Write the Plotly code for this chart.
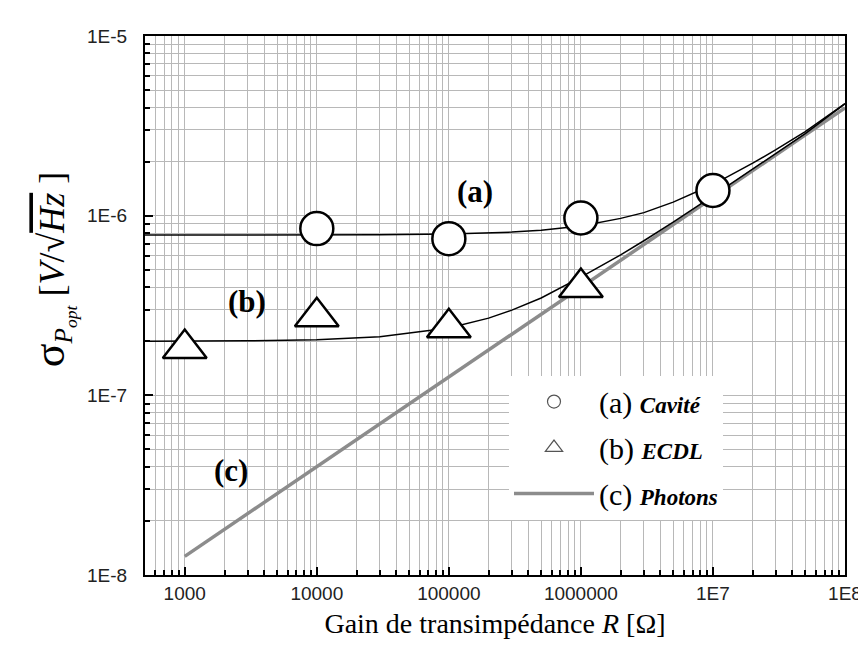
import plotly.graph_objects as go
import math

# ---- data ----
R_cavite = [1e4, 1e5, 1e6, 1e7]
sig_cavite = [8.47e-7, 7.45e-7, 9.7e-7, 1.38e-6]

R_ecdl = [1e3, 1e4, 1e5, 1e6]
sig_ecdl = [1.82e-7, 2.74e-7, 2.38e-7, 3.98e-7]

R_fit = [500, 1e3, 3e3, 1e4, 3e4, 1e5, 2e5, 3e5, 5e5, 1e6, 2e6, 3e6, 5e6, 1e7, 2e7, 3e7, 5e7, 1e8]
fit_a = [7.80e-7, 7.80e-7, 7.80e-7, 7.81e-7, 7.83e-7, 7.90e-7, 8.00e-7, 8.10e-7, 8.30e-7, 8.77e-7,
         9.66e-7, 1.04e-6, 1.19e-6, 1.49e-6, 1.96e-6, 2.33e-6, 2.94e-6, 4.20e-6]
fit_b = [2.00e-7, 2.00e-7, 2.01e-7, 2.04e-7, 2.12e-7, 2.37e-7, 2.69e-7, 2.98e-7, 3.48e-7, 4.55e-7,
         6.05e-7, 7.25e-7, 9.20e-7, 1.29e-6, 1.81e-6, 2.21e-6, 2.86e-6, 4.20e-6]

R_photons = [1e3, 1e8]
sig_photons = [1.27e-8, 3.98e-6]

x_tickvals = [1e3, 1e4, 1e5, 1e6, 1e7, 1e8]
x_ticktext = ["1000", "10000", "100000", "1000000", "1E7", "1E8"]
y_tickvals = [1e-8, 1e-7, 1e-6, 1e-5]
y_ticktext = ["1E-8", "1E-7", "1E-6", "1E-5"]

labels = ["(a)", "(b)", "(c)"]
label_R = [1.57e5, 2.96e3, 2.24e3]
label_sig = [1.355e-6, 3.35e-7, 3.8e-8]

legend_names = ["(a) <b><i><span style='font-size:23px'>Cavité</span></i></b>",
                "(b) <b><i><span style='font-size:23px'>ECDL</span></i></b>",
                "(c) <b><i><span style='font-size:23px'>Photons</span></i></b>"]

SERIF = "Liberation Serif, Times New Roman, serif"
SANS = "Liberation Sans, Arial, sans-serif"

fig = go.Figure()

fig.add_trace(go.Scatter(x=R_photons, y=sig_photons, mode="lines",
                         line=dict(color="#8c8c8c", width=3.5), showlegend=False))
fig.add_trace(go.Scatter(x=R_fit, y=fit_a, mode="lines",
                         line=dict(color="black", width=1.5), showlegend=False))
fig.add_trace(go.Scatter(x=R_fit, y=fit_b, mode="lines",
                         line=dict(color="black", width=1.5), showlegend=False))
fig.add_trace(go.Scatter(x=R_cavite, y=sig_cavite, mode="markers",
                         marker=dict(symbol="circle", size=33, color="white",
                                     line=dict(color="black", width=2.5)),
                         showlegend=False))
fig.add_trace(go.Scatter(x=R_ecdl, y=sig_ecdl, mode="markers",
                         marker=dict(symbol="triangle-up", size=38, color="white",
                                     line=dict(color="black", width=2.5)),
                         showlegend=False))

# legend-only entries
fig.add_trace(go.Scatter(x=[None], y=[None], mode="markers", name=legend_names[0],
                         legendgroup="a",
                         marker=dict(symbol="circle-open", size=13, color="#555555",
                                     line=dict(width=1.2))))
fig.add_trace(go.Scatter(x=[None], y=[None], mode="markers", name=legend_names[1],
                         legendgroup="b",
                         marker=dict(symbol="triangle-up-open", size=15, color="#555555",
                                     line=dict(width=1.2))))
fig.add_trace(go.Scatter(x=[None], y=[None], mode="lines", name=legend_names[2],
                         legendgroup="c",
                         line=dict(color="#8c8c8c", width=3.5)))

for t, xr, yv in zip(labels, label_R, label_sig):
    fig.add_annotation(x=math.log10(xr), y=math.log10(yv), xref="x", yref="y",
                       text="<b>" + t + "</b>", showarrow=False,
                       font=dict(family=SERIF, size=31, color="black"))

fig.add_annotation(xref="paper", yref="paper", x=-0.131, y=0.566,
                   text=("<span style='font-size:44px'>σ</span><sub><i>P</i><sub><i>opt</i></sub></sub>"
                         " [<i>V</i>/√<span style='text-decoration:overline'><i>Hz</i></span> ]"),
                   textangle=-90, showarrow=False, xanchor="center", yanchor="middle",
                   font=dict(family=SERIF, size=36, color="black"))

grid_col = "#b8b8b8"
fig.update_xaxes(type="log", range=[math.log10(500), 8],
                 tickmode="array", tickvals=x_tickvals, ticktext=x_ticktext,
                 ticks="inside", ticklen=8, tickwidth=1.5, tickcolor="black",
                 showline=True, linecolor="black", linewidth=2, mirror=True,
                 showgrid=True, gridcolor=grid_col, gridwidth=1,
                 minor=dict(dtick="D1", ticks="inside", ticklen=5, tickcolor="black",
                            showgrid=True, gridcolor=grid_col, gridwidth=1),
                 tickfont=dict(family=SANS, size=19, color="#222222"),
                 title=dict(text="Gain de transimpédance <i>R</i> [Ω]",
                            font=dict(family=SERIF, size=28, color="black"), standoff=11),
                 zeroline=False)
fig.update_yaxes(type="log", range=[-8, -5],
                 tickmode="array", tickvals=y_tickvals, ticktext=y_ticktext,
                 ticks="inside", ticklen=8, tickwidth=1.5, tickcolor="black",
                 showline=True, linecolor="black", linewidth=2, mirror=True,
                 showgrid=True, gridcolor=grid_col, gridwidth=1,
                 minor=dict(dtick="D1", ticks="inside", ticklen=5, tickcolor="black",
                            showgrid=True, gridcolor=grid_col, gridwidth=1),
                 tickfont=dict(family=SANS, size=19, color="#222222"),
                 ticklabelstandoff=12,
                 zeroline=False)

fig.update_layout(
    width=866, height=653,
    margin=dict(l=137, r=21, t=28, b=86),
    plot_bgcolor="white", paper_bgcolor="white",
    legend=dict(x=0.52, y=0.37, xanchor="left", yanchor="top",
                bgcolor="white", borderwidth=0, itemwidth=80,
                font=dict(family=SERIF, size=30, color="black"),
                tracegroupgap=4),
)

fig.write_html("out.html")
